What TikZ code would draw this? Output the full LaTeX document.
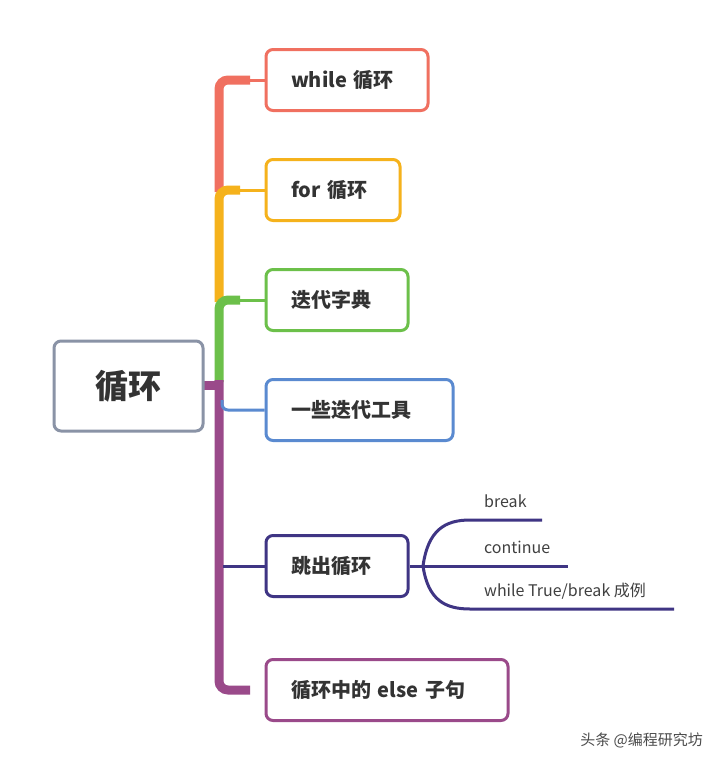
\documentclass[tikz,border=0pt]{standalone}
\usepackage{fontspec}
\setmainfont{Noto Sans CJK SC}
\begin{document}
\begin{tikzpicture}[x=1pt,y=-1pt,
  box/.style={draw,line width=3pt,rounded corners=7pt,fill=white,inner xsep=25pt,inner ysep=0pt,minimum height=61pt,align=left,font=\bfseries\fontsize{20}{24}\selectfont,text=black!80},
  bw/.style={text width=#1pt-50pt},
  trunk/.style={line width=9pt,rounded corners=9pt},
  thin/.style={line width=3pt},
  lab/.style={anchor=west,inner sep=0pt,font=\fontsize{16}{19}\selectfont,text=black!75}]
\definecolor{cR}{HTML}{F07060}\definecolor{cO}{HTML}{F5B21C}\definecolor{cG}{HTML}{6CC04A}
\definecolor{cB}{HTML}{5A8AD0}\definecolor{cN}{HTML}{3F3584}\definecolor{cP}{HTML}{9A4A8A}
\definecolor{cg}{HTML}{8A93A6}
\useasboundingbox[fill=white] (0,0) rectangle (719,766);
% trunk
\draw[trunk,cR] (219,192) -- (219,80) -- (250,80);
\draw[trunk,cO] (219,302) -- (219,190) -- (240,190);
\draw[trunk,cG] (219,382) -- (219,300) -- (240,300);
\draw[line width=9pt,cP] (203,385) -- (223,385);
\draw[trunk,cP] (219,380) -- (219,690) -- (250,690);
% boxes
\node[draw=cg,line width=3pt,rounded corners=7pt,fill=white,inner sep=0pt,text=black!80,minimum width=149pt,minimum height=90pt,font=\bfseries\fontsize{33}{36}\selectfont] (root) at (128.5,386) {循环};
\node[box,draw=cR,bw=162] (a) at (347,80) {while 循环};
\node[box,draw=cO,bw=134] (b) at (333,190) {for 循环};
\node[box,draw=cG,bw=142] (c) at (337,300) {迭代字典};
\node[box,draw=cB,bw=187] (d) at (359.5,410) {一些迭代工具};
\node[box,draw=cN,bw=142] (e) at (337,566) {跳出循环};
\node[box,draw=cP,bw=242] (f) at (387,690) {循环中的 else 子句};
% thin branches
\draw[thin,cR] (240,80) -- (a.west);
\draw[thin,cO] (235,190) -- (b.west);
\draw[thin,cG] (235,300) -- (c.west);
\draw[thin,cB,rounded corners=6pt] (222,400) -- (222,410) -- (d.west);
\draw[thin,cN] (223,566) -- (e.west);
% sub-branches
\coordinate (j) at (423,566);
\coordinate (e1) at (542,520);
\coordinate (e2) at (568,566);
\coordinate (e3) at (674,609);
\draw[thin,cN] (e.east) -- (j);
\draw[thin,cN] (j) .. controls (428,530) and (445,520) .. (470,520) -- (e1);
\draw[thin,cN] (j) -- (e2);
\draw[thin,cN] (j) .. controls (428,600) and (445,609) .. (470,609) -- (e3);
\node[lab] (t1) at (484,501) {break};
\node[lab] (t2) at (484,547) {continue};
\node[lab] (t3) at (484,591) {while True/break 成例};
\node[anchor=east,inner sep=0pt,font=\fontsize{15}{18}\selectfont,text=black!70] (wm) at (703,740) {头条 @编程研究坊};
\end{tikzpicture}
\end{document}
